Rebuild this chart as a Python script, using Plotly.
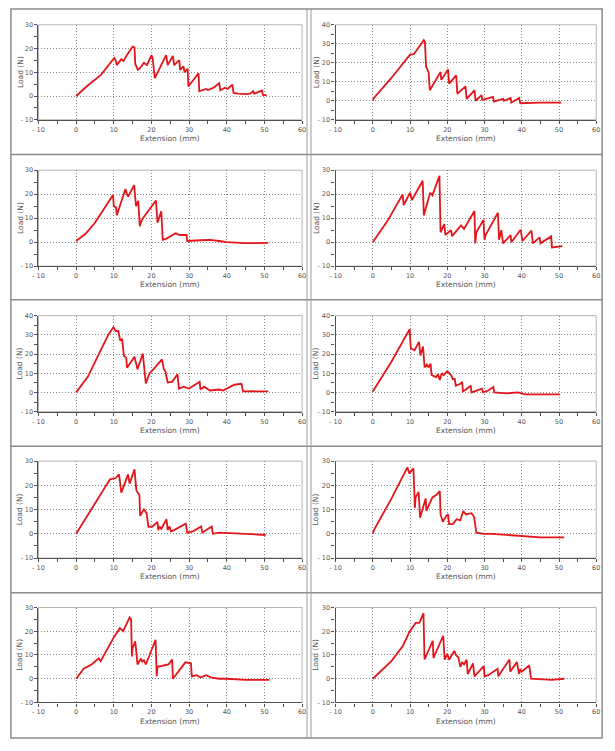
import plotly.graph_objects as go

# ---- data (mm, N) ----

EXT_1 = [0, 3, 6.6, 10.1, 10.5, 10.8, 12, 12.6, 13.2, 15,
         15.5, 15.7, 16.4, 17, 18, 18.8, 20, 20.3, 20.9, 23.9,
         24.3, 25.7, 26, 27.4, 27.6, 28.5, 28.8, 29.6, 29.8, 32.5,
         32.7, 33.5, 34.5, 35, 36.5, 38, 38.3, 39.5, 40.2, 41.5,
         41.8, 43, 45, 46.2, 47, 47.3, 49.3, 49.6, 50.6]
LOAD_1 = [0, 4.3, 8.9, 16, 15, 13, 15.5, 14.8, 16.5, 20.8,
          20.5, 13.5, 11, 11.8, 14, 13, 17.2, 16, 7.5, 17.2,
          13, 16.9, 13, 15.1, 11, 12.5, 10, 11.5, 4, 9.6,
          2, 2.5, 3, 2.5, 3.5, 5.4, 2.4, 3.5, 3, 4.8,
          1.3, 1, 0.8, 1, 2, 1, 2.3, 0.5, 0.3]

EXT_2 = [0, 0.3, 5, 10, 11, 13.7, 14, 14.3, 15, 15.3,
         18.2, 18.4, 20.2, 20.5, 22.4, 22.7, 24.9, 25.2, 27.3, 27.6,
         29.2, 29.4, 32.3, 32.5, 35, 35.2, 37, 37.2, 39.3, 39.6,
         45, 50.6]
LOAD_2 = [0, 1.5, 12, 24.3, 24.5, 31.9, 31, 18, 15, 5.5,
          15.1, 11, 16.5, 9, 13.4, 3.7, 7.6, 1, 5.5, 0,
          3, 0.5, 2, -0.5, 1, 0, 1.5, -1, 1.5, -1.3,
          -1, -1]

EXT_3 = [0, 2.5, 5, 7.4, 9.8, 10, 10.6, 10.8, 13.1, 13.5,
         13.8, 15.4, 15.9, 16.5, 16.9, 17.5, 21.2, 21.6, 22.6, 23,
         24, 26.4, 27.5, 29.3, 29.5, 33, 35.5, 38, 40, 45,
         51]
LOAD_3 = [0.5, 3.5, 8.1, 14, 19.7, 15, 14.5, 11.2, 22.2, 20,
          19, 23.8, 15, 17.2, 6.7, 9.5, 17.4, 8.1, 12.9, 1,
          1.5, 3.7, 3, 3, 0.5, 0.8, 1, 0.5, 0, -0.4,
          -0.3]

EXT_4 = [0, 4, 8, 8.3, 10, 10.5, 13.4, 13.7, 15.4, 16,
         17.9, 18.2, 19.2, 19.5, 21, 21.3, 23.7, 24.5, 27.3, 27.5,
         27.8, 29.7, 30, 30.3, 33.6, 33.9, 34.5, 35, 37, 37.2,
         39.7, 40.2, 42.6, 43, 44.8, 45, 47.9, 48.1, 50.9]
LOAD_4 = [0, 9, 19.9, 15.5, 20.6, 17.6, 25.6, 11.1, 20.6, 19.5,
          27.7, 4.1, 7.5, 3, 5, 2.5, 7, 5.5, 13, -0.5,
          4, 9.3, 1, 3, 12.3, 1, 5, -0.5, 3, 0,
          5.2, 0.5, 4.8, -0.5, 2, -0.5, 2.4, -2.2, -1.6]

EXT_5 = [0, 3.1, 6, 8.6, 9.9, 10.5, 11.2, 11.7, 12.2, 12.7,
         13.3, 13.5, 15.5, 16.3, 17.7, 18.5, 19.5, 20.5, 22.8, 23.3,
         23.7, 24.3, 25.5, 26.9, 27.3, 28.5, 30, 32.8, 33, 34,
         35.5, 38, 39, 42, 43.9, 44.3, 47, 51]
LOAD_5 = [0, 8.1, 19.8, 30.2, 34, 32, 32, 27, 27.9, 19,
          18, 12.9, 18.6, 12.1, 20.2, 4.7, 10, 12, 17.2, 12,
          11, 5.2, 5.5, 9.5, 2, 3, 2, 5.5, 1.5, 3,
          1, 1.5, 1, 4, 4.5, 0.5, 0.6, 0.5]

EXT_6 = [0, 5, 9.9, 10.2, 11.2, 12.4, 12.8, 13.5, 13.9, 14.5,
         15, 15.5, 15.8, 17, 17.5, 18, 18.5, 19, 20, 21,
         21.5, 22, 22.3, 23.5, 24, 24.2, 25, 26.3, 26.5, 28,
         29.3, 29.6, 31, 32.4, 32.6, 36, 38, 39, 41, 50.3]
LOAD_6 = [0.5, 16, 33, 23, 22, 26.3, 19.2, 23.9, 13, 14.5,
          13, 15, 9, 8, 9.5, 6.5, 10, 9, 11, 9,
          7, 7, 3.5, 4.5, 5.5, 0.5, 1.5, 3.5, 0, 1,
          2, 0, 1, 2.8, 0, -0.5, 0, 0, -1, -1]

EXT_7 = [0, 4.5, 9, 10.5, 11.4, 12, 13.8, 14.2, 15.5, 16,
         16.8, 17, 18, 18.7, 19.2, 20.3, 21.6, 21.8, 22.2, 22.6,
         24, 24.3, 24.8, 25.2, 26, 29.1, 29.5, 31, 33.2, 33.5,
         36, 36.3, 38, 45, 50.3]
LOAD_7 = [0, 11, 22.5, 23, 24.5, 17, 24.5, 20.7, 26.6, 17.9,
          16, 7.4, 10.1, 8.5, 2.9, 3, 4.9, 1.5, 3, 2,
          6, 1.5, 3, 1, 1.5, 4.2, 0.5, 1, 3, 0.5,
          3, 0, 0.5, 0, -0.5]

EXT_8 = [0, 0.3, 5, 9.3, 9.8, 10.5, 10.9, 11.2, 11.3, 11.5,
         12.3, 12.7, 14.2, 14.4, 16, 17, 18, 18.2, 18.8, 19.8,
         20.2, 20.5, 21.5, 22.5, 23.5, 24.3, 25, 26.5, 27.2, 27.8,
         30, 32, 36, 40, 45, 51.4]
LOAD_8 = [0, 1.5, 14.5, 27.4, 24.9, 26, 27, 15.9, 10.7, 15,
          17.3, 6.6, 14.6, 9.5, 15, 16, 17.6, 7.9, 5, 7.5,
          8, 4, 4, 6, 5.5, 9.4, 8, 8.5, 7, 0.5,
          0, 0, -0.5, -1, -1.5, -1.5]

EXT_9 = [0, 2, 4.1, 6, 6.5, 8.1, 10, 11.6, 12.5, 14.2,
         14.6, 14.8, 15, 15.7, 16.3, 17.2, 17.6, 18, 18.5, 21.1,
         21.4, 21.6, 23, 24.5, 25.5, 25.7, 29, 30.5, 30.7, 32,
         33, 34.5, 36, 38, 40, 45, 51.3]
LOAD_9 = [0, 4.2, 6, 8.6, 7.4, 12.2, 17.4, 21.3, 20, 25.8,
          25, 9.4, 13, 15.7, 6, 8.5, 7, 8, 6, 16.4,
          1.1, 5, 5.5, 6, 8.1, 0, 6.9, 6.5, 1, 1.5,
          0.5, 1.5, 0.5, 0, 0, -0.5, -0.5]

EXT_10 = [0, 5, 8.1, 9.9, 11.5, 12.5, 13.6, 13.9, 16.1, 16.3,
          18.9, 19.3, 20, 20.5, 21.9, 22.3, 23, 23.5, 24, 24.5,
          25.2, 25.5, 26.9, 27.3, 29.8, 30, 31, 33.5, 33.7, 36.7,
          36.9, 38.7, 39.3, 39.6, 40, 42, 42.5, 48, 51.4]
LOAD_10 = [0, 7.4, 13.9, 19.9, 23.5, 23.5, 27.6, 8.1, 16, 8.8,
           18.1, 8, 10.5, 8, 11.8, 10, 9, 5, 7, 6,
           8, 2, 6.5, 1, 5.3, 1, 1.5, 4.2, 1, 8.1,
           3, 7, 2, 4, 3, 5.6, 0, -0.5, 0]

CURVES = [(EXT_1, LOAD_1), (EXT_2, LOAD_2), (EXT_3, LOAD_3), (EXT_4, LOAD_4),
          (EXT_5, LOAD_5), (EXT_6, LOAD_6), (EXT_7, LOAD_7), (EXT_8, LOAD_8),
          (EXT_9, LOAD_9), (EXT_10, LOAD_10)]

LOAD_MAX = [30, 40, 30, 30, 40, 40, 30, 30, 30, 30]

X_TICKS = [-10, 0, 10, 20, 30, 40, 50, 60]
X_TICK_TEXT = ["- 10", "0", "10", "20", "30", "40", "50", "60"]

X_TITLE = "Extension (mm)"
Y_TITLE = "Load (N)"

# ---- page geometry (pixels of the 615 x 751 page) ----

W, H = 615, 751
COL_X = [(33, 301), (335, 600)]
ROW_Y = [(21, 117), (168, 265), (315, 412), (462, 560), (610, 706)]
YTITLE_X = [14, 315]

RED = "#e3161b"
TXT = "#555555"
FONT = "DejaVu Sans"


def fx(px):
    return px / W


def fy(py):
    return 1 - py / H


fig = go.Figure()
shapes = []
annotations = []

for i, (ext, load) in enumerate(CURVES):
    n = i + 1
    row, col = divmod(i, 2)
    x0, x1 = COL_X[col]
    y0, y1 = ROW_Y[row]
    ymax = LOAD_MAX[i]
    xs = "" if n == 1 else str(n)

    fig.add_scatter(
        x=ext,
        y=load,
        mode="lines",
        line=dict(color=RED, width=1.8),
        xaxis="x" + xs,
        yaxis="y" + xs,
        showlegend=False,
    )

    yt = list(range(-10, ymax + 1, 10))
    ytt = ["- 10" if v == -10 else str(v) for v in yt]

    common = dict(
        showgrid=True,
        gridcolor="#8a8a8a",
        griddash="1px,2px",
        gridwidth=1,
        zeroline=False,
        showline=True,
        linecolor="#505050",
        linewidth=1.2,
        ticks="outside",
        ticklen=3,
        tickcolor="#505050",
        tickfont=dict(family=FONT, size=6.5, color=TXT),
        minor=dict(dtick=5, ticks="outside", ticklen=3, tickcolor="#505050", showgrid=False),
        fixedrange=True,
    )

    fig.update_layout(**{
        "xaxis" + xs: dict(
            common,
            domain=[fx(x0), fx(x1)],
            range=[-10, 60],
            tickvals=X_TICKS,
            ticktext=X_TICK_TEXT,
            anchor="y" + xs,
        ),
        "yaxis" + xs: dict(
            common,
            domain=[fy(y1), fy(y0)],
            range=[-10, ymax],
            tickvals=yt,
            ticktext=ytt,
            anchor="x" + xs,
        ),
    })

    # light frame on top / right of each plot area
    shapes.append(dict(
        type="rect", xref="x" + xs + " domain", yref="y" + xs + " domain",
        x0=0, x1=1, y0=0, y1=1, line=dict(color="#b4b4b4", width=1),
        layer="below",
    ))

    annotations.append(dict(
        text=X_TITLE, xref="paper", yref="paper",
        x=fx((x0 + x1) / 2), y=fy(y1 + 19),
        xanchor="center", yanchor="middle", showarrow=False,
        font=dict(family=FONT, size=7.5, color=TXT),
    ))
    annotations.append(dict(
        text=Y_TITLE, xref="paper", yref="paper", textangle=-90,
        x=fx(YTITLE_X[col]), y=fy((y0 + y1) / 2),
        xanchor="center", yanchor="middle", showarrow=False,
        font=dict(family=FONT, size=7.5, color=TXT),
    ))

# table borders around the ten panels
BORDER = dict(color="#8c8c8c", width=1.5)
shapes.append(dict(type="rect", xref="paper", yref="paper",
                   x0=fx(5), x1=fx(606), y0=fy(742), y1=fy(5), line=BORDER))
for py in [152, 299, 447, 595]:
    shapes.append(dict(type="line", xref="paper", yref="paper",
                       x0=fx(5), x1=fx(606), y0=fy(py), y1=fy(py), line=BORDER))
for px in [306, 310]:
    shapes.append(dict(type="line", xref="paper", yref="paper",
                       x0=fx(px), x1=fx(px), y0=fy(742), y1=fy(5),
                       line=dict(color="#9a9a9a", width=1)))

fig.update_layout(
    width=W,
    height=H,
    margin=dict(l=0, r=0, t=0, b=0),
    paper_bgcolor="white",
    plot_bgcolor="white",
    shapes=shapes,
    annotations=annotations,
    showlegend=False,
)

# the page's default 8px body margin would push the 615x751 figure off screen
fig.write_html(
    "out.html",
    config={"displayModeBar": False},
    post_script="document.body.style.margin='0';document.body.style.overflow='hidden';",
)
